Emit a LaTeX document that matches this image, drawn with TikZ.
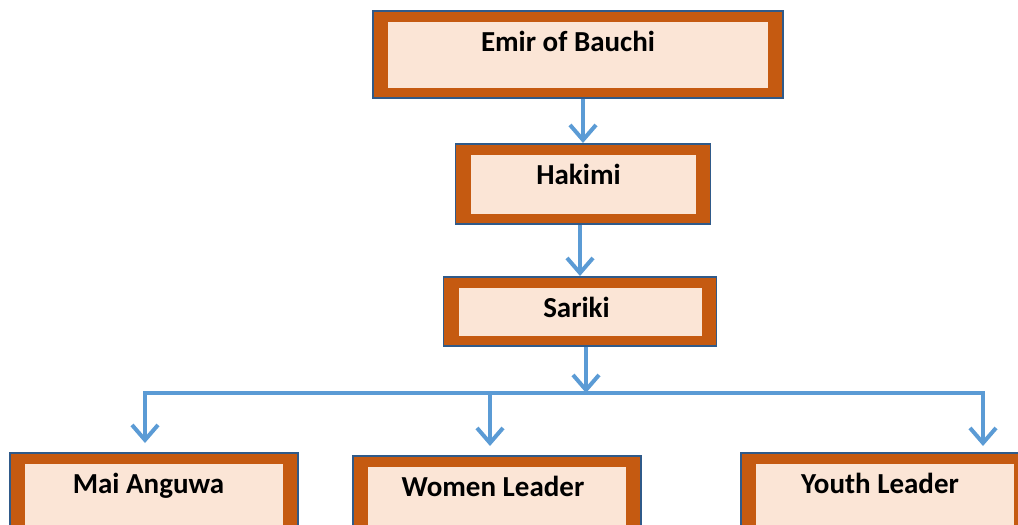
\documentclass[tikz,border=0pt]{standalone}
\usepackage{fontspec}
\setmainfont{Carlito}
\usetikzlibrary{arrows.meta,positioning}
\definecolor{rust}{HTML}{C55A11}
\definecolor{peach}{HTML}{FBE5D6}
\definecolor{navy}{HTML}{2F5A8A}
\definecolor{skyblue}{HTML}{5B9BD5}
\tikzset{
  orgbox/.style 2 args={rectangle,draw=navy,line width=1.5pt,fill=rust,inner sep=0pt,anchor=north,
    minimum width=#1,text height=41pt,text depth=#2,font=\fontsize{29}{33}\selectfont\bfseries,
    path picture={\fill[peach] ([xshift=15pt,yshift=-11pt]path picture bounding box.north west)
      rectangle ([xshift=-15pt,yshift=10pt]path picture bounding box.south east);}},
  pull/.style={execute at end node={\hspace*{#1}}},
  flow/.style={-{Straight Barb[length=15pt,width=26pt,line width=4pt]},color=skyblue,line width=4pt}
}
\begin{document}
\begin{tikzpicture}[x=1pt,y=-1pt]
\clip (0,0) rectangle (1018,525);
% \draw[help lines,step=50] (0,0) grid (1018,525);
\node (emir) [orgbox={410pt}{46pt},pull=20pt] at (578,10) {Emir of Bauchi};
\node (hakimi) [orgbox={255pt}{39pt},pull=9pt] at (583,143) {Hakimi};
\node (sariki) [orgbox={273pt}{28pt},pull=7pt] at (580,276) {Sariki};
\node (mai) [orgbox={288pt}{60pt},pull=11pt] at (154,452) {Mai Anguwa};
\node (women) [orgbox={288pt}{60pt},pull=8pt] at (497,455) {Women Leader};
\node (youth) [orgbox={288pt}{60pt},pull=10pt] at (885,452) {Youth Leader};
%
\coordinate (hub) at (586,393);
\coordinate (busL) at (145,393);
\coordinate (busM) at (490,393);
\coordinate (busR) at (983,393);
%
\path[flow] (hakimi.north |- emir.south) edge (hakimi.north);
\path[flow] (sariki.north |- hakimi.south) edge (sariki.north);
\path[flow] (hub |- sariki.south) edge (hub);
\path[flow,-,line cap=rect] (busL) edge (busR);
\path[flow] (busL) edge[shorten >=9pt] (busL |- mai.north);
\path[flow] (busM) edge[shorten >=9pt] (busM |- women.north);
\path[flow] (busR) edge[shorten >=6pt] (busR |- youth.north);
\end{tikzpicture}
\end{document}
